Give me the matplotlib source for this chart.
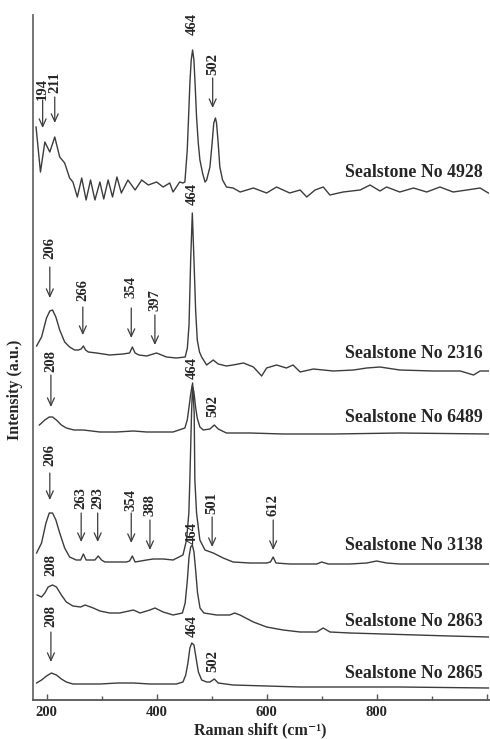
import matplotlib
matplotlib.use('Agg')
import matplotlib.pyplot as plt

# raman spectra, stacked (a.u. already offset)
x_4928 = [181,189,197,206,215,224,233,242,248,256,264,272,280,288,297,304,312,320,328,336,348,361,373,385,400,412,424,430,442,448,
          451.5,455.8,458.2,460.6,463,465.5,467.9,470.3,472.7,475.8,478.8,483.6,488,491,497,501,504,507,509,512,515,520,
          527,539,552,576,600,618,642,661,673,688,703,715,739,770,788,806,818,842,867,891,915,939,964,988,1003]
y_4928 = [573,528,558,548,563,543,537,522,518,503,522,500,520,500,518,501,520,503,523,507,520,510,520,515,518,513,517,508,518,517,
          518,550,583,617,640,650,640,613,583,557,540,527,518,520,533,557,577,582,577,557,533,520,
          513,512,508,512,507,513,507,510,503,510,513,505,508,510,515,509,513,508,512,508,513,508,510,512,507]

x_2316 = [182,191,200,206,211,217,224,233,242,251,258,263,267,271,276,291,315,339,351,356,361,368,382,400,418,436,452,
          456,459,462,465,468,471,474,478,482,491,503,512,527,539,558,576,591,600,618,636,648,661,685,721,758,782,806,842,903,952,976,988,1003]
y_2316 = [354,363,382,389,390,383,370,358,353,350,350,351,354,350,348,347,345,346,347,353,347,345,344,347,343,342,343,
          352,375,440,487,440,390,360,348,343,335,340,336,334,335,337,333,324,332,335,332,335,328,331,329,330,332,333,330,329,329,325,329,329]

x_6489 = [187,197,205,211,218,227,236,250,267,297,327,358,382,400,430,451.5,455.8,458.8,461.8,464.8,467.9,470.9,473.9,478.8,484.8,
          497,505,512,527,570,630,721,842,1003]
y_6489 = [275,280,283,283,280,275,272,270,270,268,268,269,268,268,268,272,280,292,305,315,308,293,282,273,270,
          271,275,271,267,267,266,266,267,266]

x_3138 = [182,191,199,205,211,217,224,233,242,254,262,267,272,288,294,300,306,327,345,351,356,361,382,394,412,430,
          448,454.5,458.7,460.5,463.6,465.5,468.4,469.6,472.7,478.7,488,503,521,539,570,600,607,612,617,642,691,700,712,752,782,800,818,842,903,976,1003]
y_3138 = [147,157,177,187,187,180,167,152,143,140,140,146,140,140,144,140,138,138,138,139,144,138,140,141,141,140,
          145,160,187,220,287,317,287,220,187,160,150,147,142,138,137,137,138,143,137,136,136,138,136,136,137,139,137,136,136,136,136]

x_2863 = [183,191,197,203,211,218,227,236,248,262,270,285,297,315,333,358,370,388,397,412,430,447,452,456,459,462,465,468,471,474.5,479,486,
          509,533,542,551.5,576,600,630,661,691,703,715,752,812,873,933,1003]
y_2863 = [105,103,107,113,115,113,105,98,94,93,95,92,89,87,87,90,87,90,92,88,85,87,97,120,143,153,155,148,130,107,92,87,
          85,85,87,85,78,73,70,68,68,72,68,67,66,65,64,63]

x_2865 = [182,191,200,209,218,227,236,248,297,330,358,388,436,448,453,457,460.6,464,468,471.5,476,482,491,
          497,505,512,539,600,661,721,842,1003]
y_2865 = [17,20,24,27,25,21,18,16,16,17,17,16,16,18,25,37,52,57,55,43,28,20,18,
          18,21,17,15,14,13,13,13,12]

spectra = [(x_4928, y_4928), (x_2316, y_2316), (x_6489, y_6489),
           (x_3138, y_3138), (x_2863, y_2863), (x_2865, y_2865)]
names = ['Sealstone No 4928', 'Sealstone No 2316', 'Sealstone No 6489',
         'Sealstone No 3138', 'Sealstone No 2863', 'Sealstone No 2865']
name_y = [528, 347, 283, 154, 79, 26]

# peak labels: (label, x, text y, arrow top, arrow bottom) - None = no arrow
peaks = [
    ('194', 193, 611, 600, 572), ('211', 215, 618, 603, 577),
    ('464', 464, 676, None, None), ('502', 502, 636, 622, 592),
    ('206', 206, 452, 433, 402), ('266', 266, 410, 393, 365),
    ('354', 354, 413, 392, 362), ('397', 397, 400, 385, 355),
    ('464', 464, 506, None, None),
    ('208', 208, 339, 325, 293), ('464', 464, 332, None, None),
    ('502', 502, 294, None, None),
    ('206', 206, 245, 227, 200), ('263', 263, 202, 187, 158),
    ('293', 293, 202, 187, 158), ('354', 354, 200, 187, 157),
    ('388', 388, 195, 180, 150), ('501', 501, 197, 183, 153),
    ('612', 612, 195, 180, 150),
    ('464', 464, 167, None, None), ('208', 208, 135, None, None),
    ('208', 208, 84, 68, 38), ('464', 464, 74, None, None),
    ('502', 502, 39, None, None),
]

serif = 'Liberation Serif'
lc = '#3c3c3c'

fig = plt.figure(figsize=(4.90, 7.39), dpi=100)
ax = fig.add_axes([33.3/490, 39/739, 1 - 33.3/490, 685/739])

for xs, ys in spectra:
    ax.plot(xs, ys, color=lc, lw=1.0)

for nm, ny in zip(names, name_y):
    ax.text(993, ny, nm, ha='right', va='center', fontsize=12.8,
            fontweight='bold', family=serif, color='#262626')

for lab, px, ty, a0, a1 in peaks:
    ax.text(px, ty, lab, rotation=90, ha='center', va='center', fontsize=10.5,
            fontweight='bold', family=serif, color='#262626')
    if a0 is not None:
        ax.annotate('', xy=(px, a1), xytext=(px, a0),
                    arrowprops=dict(arrowstyle='->,head_length=0.55,head_width=0.25',
                                    color=lc, lw=0.9, shrinkA=0, shrinkB=0))

ax.set_xlim(176, 1006)
ax.set_ylim(0, 685)
ax.set_yticks([])
ax.set_xticks([200, 400, 600, 800, 1000])
ax.set_xticklabels(['200', '400', '600', '800', ''])
ax.set_xticks([300, 500, 700, 900], minor=True)
ax.tick_params(axis='x', which='major', direction='in', length=4, width=1,
               color='#555555', pad=4)
ax.tick_params(axis='x', which='minor', direction='in', length=3, width=1,
               color='#555555')
for lbl in ax.get_xticklabels():
    lbl.set_fontfamily(serif)
    lbl.set_fontweight('bold')
    lbl.set_fontsize(10.5)
    lbl.set_color('#262626')

ax.spines['top'].set_visible(False)
ax.spines['right'].set_visible(False)
ax.spines['left'].set_color('#6a6a6a')
ax.spines['bottom'].set_color('#555555')
ax.spines['left'].set_linewidth(1.3)
ax.spines['bottom'].set_linewidth(1.3)

fig.text(15/490, 1 - 390/739, 'Intensity (a.u.)', rotation=90, ha='center', va='center',
         fontsize=11.5, fontweight='bold', family=serif, color='#262626')
fig.text(260/490, 1 - 730/739, 'Raman shift (cm\u207b\u00b9)', ha='center', va='center',
         fontsize=11.5, fontweight='bold', family=[serif, 'DejaVu Serif'], color='#262626')

fig.savefig('out.png', dpi=100)
